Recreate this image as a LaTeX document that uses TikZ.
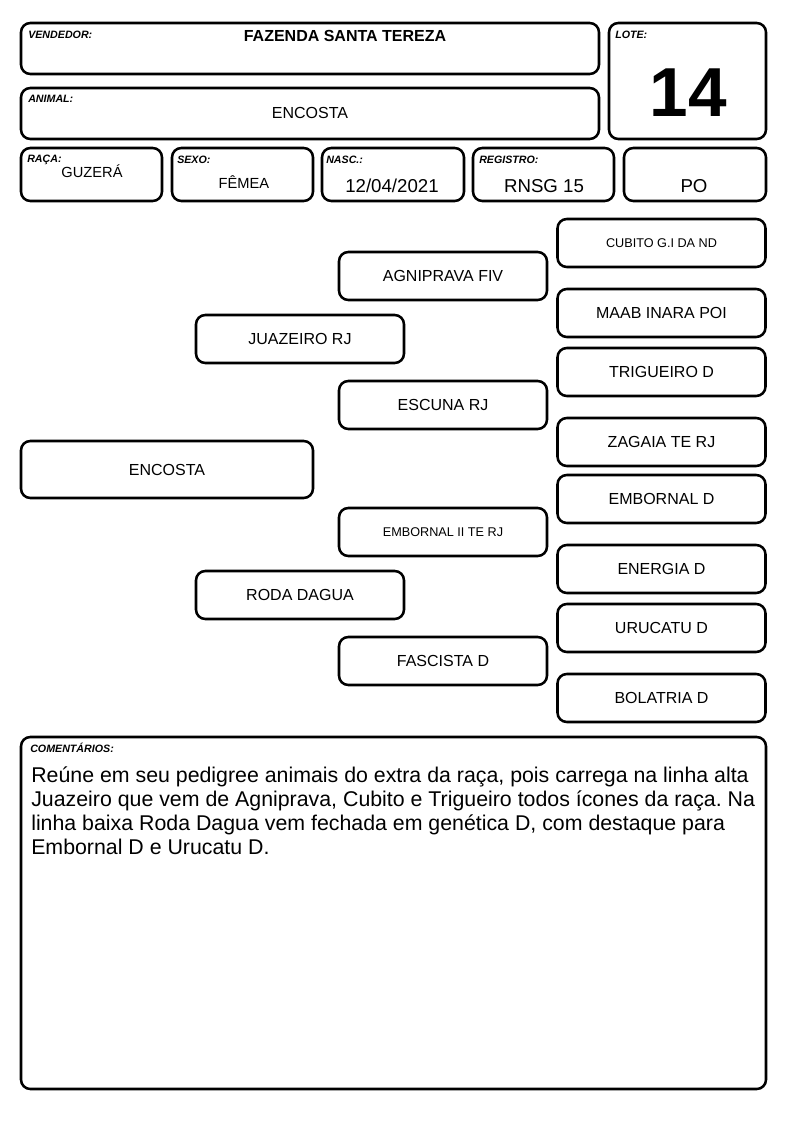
\documentclass[tikz,border=0pt]{standalone}
\usepackage{fontspec}
\setmainfont{Liberation Sans}
\frenchspacing
\begin{document}
\begin{tikzpicture}[
  x=0.75pt, y=-0.75pt,
  card/.style={draw, line width=1.9pt, rounded corners=7pt, inner sep=0pt},
  tag/.style={font=\fontsize{8}{9}\selectfont\bfseries\itshape, anchor=base west, inner sep=0pt},
  val/.style={anchor=base, inner sep=0pt},
]
\useasboundingbox (0,0) rectangle (794,1123);

% ── the header cards ──────────────────────────────────────────────────────
\foreach \n/\xa/\ya/\xb/\yb in {%
  vend/21/23/599/74, lote/609/23/766/139, anim/21/88/599/139,
  raca/21/148/162/201, sexo/172/148/313/201, nasc/322/148/464/201,
  reg/473/148/614/201, cat/624/148/766/201, obs/21/737/766/1089%
} { \node[card, minimum width={(\xb-\xa)*0.75pt}, minimum height={(\yb-\ya)*0.75pt}]
      (\n) at ({(\xa+\xb)/2},{(\ya+\yb)/2}) {}; }

% ── their tags ────────────────────────────────────────────────────────────
\foreach \n/\x/\y/\t in {%
  tvend/28/39/VENDEDOR:, tlote/615/39/LOTE:, tanim/28/103/ANIMAL:,
  traca/27/163/RAÇA:, tsexo/177/164/SEXO:, tnasc/326/164/NASC.:,
  treg/479/164/REGISTRO:, tobs/30/752/COMENTÁRIOS:%
} { \node[tag] (\n) at (\x,\y) {\t}; }

% ── their values ──────────────────────────────────────────────────────────
\node[val, font=\fontsize{12}{14}\selectfont\bfseries] (vvend) at (345,42) {FAZENDA SANTA TEREZA};
\node[val, font=\fontsize{52}{56}\selectfont\bfseries] (vlote) at (688,117) {14};
\node[val, font=\fontsize{12}{14}\selectfont] (vanim) at (310,119) {ENCOSTA};
\foreach \n/\x/\y/\s/\t in {%
  vraca/92/178/11/GUZERÁ, vsexo/244/189/11/FÊMEA, vnasc/392/193/14/12\slash 04\slash 2021,
  vreg/544/193/14/RNSG 15, vcat/694/193/14/PO%
} { \node[val, font=\fontsize{\s}{\s}\selectfont] (\n) at (\x,\y) {\t}; }

% ── the pedigree ──────────────────────────────────────────────────────────
\node[card, minimum width=292*0.75pt, minimum height=57*0.75pt,
      font=\fontsize{12}{14}\selectfont] (self) at (167,469.5) {ENCOSTA};
\foreach \n/\x/\y/\s/\t in {%
  pai/300/339/12/JUAZEIRO RJ, mae/300/595/12/RODA DAGUA,
  avo1/443/276/12/AGNIPRAVA FIV, avo2/443/405/12/ESCUNA RJ,
  avo3/443/532/9.5/EMBORNAL II TE RJ, avo4/443/661/12/FASCISTA D,
  bis1/661.5/243/9.5/CUBITO G.I DA ND, bis2/661.5/313/12/MAAB INARA POI,
  bis3/661.5/372/12/TRIGUEIRO D, bis4/661.5/442/12/ZAGAIA TE RJ,
  bis5/661.5/499/12/EMBORNAL D, bis6/661.5/569/12/ENERGIA D,
  bis7/661.5/628/12/URUCATU D, bis8/661.5/698/12/BOLATRIA D%
} { \node[card, minimum width=208*0.75pt, minimum height=48*0.75pt,
          font=\fontsize{\s}{\s}\selectfont] (\n) at (\x,\y) {\t}; }

% ── the comment ───────────────────────────────────────────────────────────
\node[anchor=north west, inner sep=0pt, align=left,
      font=\fontsize{16}{18}\selectfont] (txt) at (31,767)
  {Reúne em seu pedigree animais do extra da raça, pois carrega na linha alta\\
   Juazeiro que vem de Agniprava, Cubito e Trigueiro todos ícones da raça. Na\\
   linha baixa Roda Dagua vem fechada em genética D, com destaque para\\
   Embornal D e Urucatu D.};

\end{tikzpicture}
\end{document}
